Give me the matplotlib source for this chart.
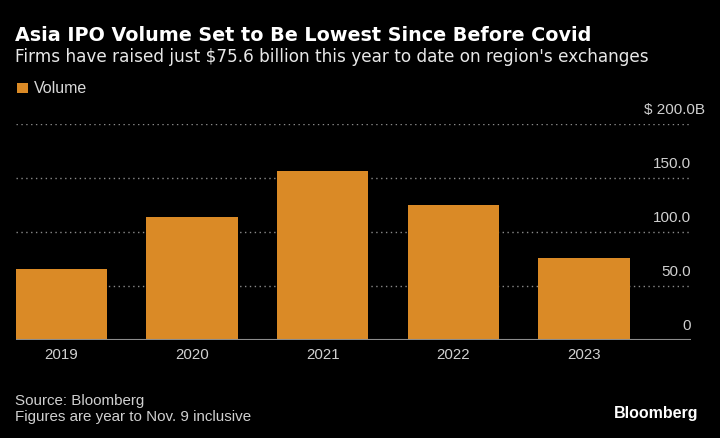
import matplotlib.pyplot as plt
from matplotlib.patches import Rectangle
from matplotlib.ticker import FixedLocator

plt.rcParams['font.family'] = ['Liberation Sans', 'DejaVu Sans']

years = ['2019', '2020', '2021', '2022', '2023']
volume = [65.7, 113.9, 156.5, 125.3, 75.6]
yticks = [0, 50, 100, 150, 200]
ytick_labels = ['0', '50.0', '100.0', '150.0', '$ 200.0B']

bar_color = '#DA8A26'
bg = '#000000'
label_color = '#d0d0d0'

fig = plt.figure(figsize=(7.2, 4.38), dpi=100, facecolor=bg)
ax = fig.add_axes([0.0218, 0.2237, 0.9382, 0.4932], facecolor=bg)

x = range(len(years))
ax.bar(x, volume, width=0.7, color=bar_color, zorder=3)
ax.set_xlim(-0.35, 4.82)
ax.set_ylim(0, 200)

# y labels sit above their gridlines, right aligned at the plot edge
ax.yaxis.set_major_locator(FixedLocator(yticks))
ax.tick_params(axis='y', length=0, labelright=False, labelleft=False)
for v, lab in zip(yticks, ytick_labels):
    dx = 10 if lab.endswith('B') else 0
    ax.annotate(lab, xy=(1.0, v), xycoords=ax.get_yaxis_transform(),
                xytext=(dx, 7), textcoords='offset points',
                ha='right', va='baseline', fontsize=11, color=label_color,
                annotation_clip=False)

ax.set_xticks(list(x))
ax.set_xticklabels(years)
ax.tick_params(axis='x', length=0, pad=6, labelsize=10.8, labelcolor=label_color)

ax.grid(axis='y', color='#8a8a8a', linestyle=(0, (1, 2.5)), linewidth=1, zorder=1)
ax.axhline(0, color='#8c8c8c', linewidth=1.5, zorder=4)
for s in ax.spines.values():
    s.set_visible(False)

fig.text(0.0215, 0.906, 'Asia IPO Volume Set to Be Lowest Since Before Covid',
         fontsize=13.8, fontweight='bold', color='white', va='baseline',
         family='DejaVu Sans')
fig.text(0.0215, 0.859, "Firms have raised just $75.6 billion this year to date on region's exchanges",
         fontsize=12.2, color='#e8e8e8', va='baseline', family='DejaVu Sans')
fig.patches.append(Rectangle((0.0236, 0.787), 0.0153, 0.0242, transform=fig.transFigure,
                             facecolor=bar_color, edgecolor='none'))
fig.text(0.047, 0.788, 'Volume', fontsize=11.5, color='#d8d8d8', va='baseline')

fig.text(0.0215, 0.0753, 'Source: Bloomberg', fontsize=10.9, color=label_color, va='baseline')
fig.text(0.0215, 0.0388, 'Figures are year to Nov. 9 inclusive', fontsize=10.9,
         color=label_color, va='baseline')
fig.text(0.9694, 0.0457, 'Bloomberg', fontsize=11.5, fontweight='bold', color='white',
         ha='right', va='baseline')

fig.savefig('out.png', dpi=100, facecolor=bg)
